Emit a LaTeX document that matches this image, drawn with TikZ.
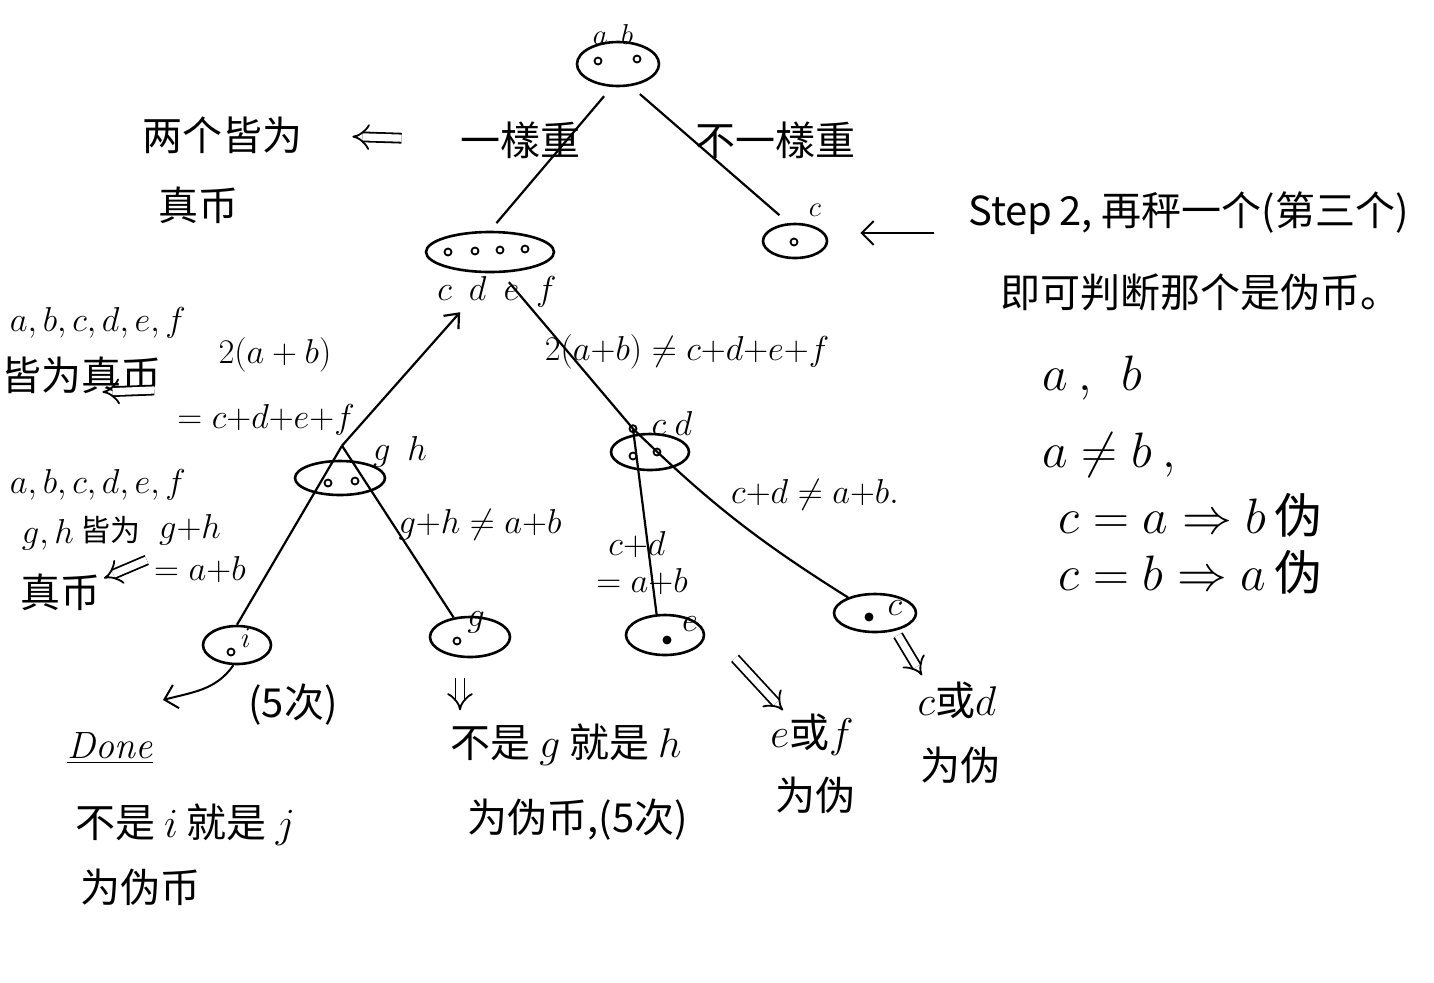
\documentclass[tikz,border=0pt]{standalone}
\usepackage{fontspec}
\setmainfont{Noto Sans CJK SC}
\newfontfamily\lmr{Latin Modern Roman}
\usetikzlibrary{shapes.geometric,arrows.meta,calc}
\begin{document}
\begin{tikzpicture}[x=0.5pt,y=-0.5pt,
 blob/.style={draw, ellipse, line width=1.3pt, inner sep=0pt},
 dotn/.style={draw, circle, line width=0.9pt, inner sep=0pt, minimum size=3.5pt},
 edge/.style={line width=1.1pt},
 dbl/.style={double, double distance=3.6pt, line width=0.9pt, -{Implies}},
 sgl/.style={line width=1pt, -{Straight Barb[length=6pt,width=12pt]}},
 cn/.style={inner sep=1pt, font=\fontsize{20}{30}\selectfont, align=left},
 big/.style={inner sep=1pt, font=\fontsize{24}{30}\selectfont},
 mid/.style={inner sep=1pt, font=\fontsize{19}{24}\selectfont},
 sml/.style={inner sep=1pt, font=\fontsize{15}{18}\selectfont},
]
\useasboundingbox (0,0) rectangle (1434,982);
\fill[white] (0,0) rectangle (1434,982);

% ---- top node a b
\node[blob, minimum width=41pt, minimum height=22pt] (ab) at (618,64) {};
\node[dotn] (ab1) at (598,61) {};
\node[dotn] (ab2) at (637,59) {};
\node[sml] (ablbl) at (613,34) {$a\ \ b$};

% ---- cdef node
\node[blob, minimum width=64pt, minimum height=20pt] (cdef) at (490,252) {};
\node[dotn] (cd1) at (448,252) {};
\node[dotn] (cd2) at (475,251) {};
\node[dotn] (cd3) at (500,250) {};
\node[dotn] (cd4) at (525,249) {};
\node[mid] (cdeflbl) at (497,292) {$c\ \ d\ \ e\ \ f$};

% ---- c node (top right)
\node[blob, minimum width=32pt, minimum height=17pt] (c1) at (795,241) {};
\node[dotn] (c1d) at (794,242) {};
\node[sml] (c1lbl) at (815,210) {$c$};

% ---- edges from top
\draw[edge, shorten <=6pt, shorten >=5pt] (ab.255) -- (cdef.north);
\draw[edge, shorten <=6pt, shorten >=6pt] (ab.300) -- (c1.110);
\node[cn] (same) at (520,140) {一樣重};
\node[cn] (diff) at (775,140) {不一樣重};

% ---- left note
\node[cn] (both) at (222,135) {两个皆为};
\node[cn] (real1) at (198,205) {真币};
\draw[dbl, shorten <=28pt, shorten >=24pt] (same.west) -- (both.east);

% ---- step 2 note
\node[cn, anchor=west] (step) at (966,213) {Step\,2,\ 再秤一个(第三个)};
\node[cn, anchor=west] (judge) at (998,292) {即可判断那个是伪币。};
\draw[sgl] ($(step.west)+(-32,20)$) -- ($(c1.east)+(32,-8)$);
\node[big, anchor=west] (f1) at (1040,378) {$a\ ,\ \ b$};
\node[big, anchor=west] (f2) at (1040,455) {$a \neq b\ ,$};
\node[big, anchor=west] (f3) at (1056,515) {$c = a \Rightarrow b$\,伪};
\node[big, anchor=west] (f4) at (1056,572) {$c = b \Rightarrow a$\,伪};

% ---- gh node
\node[blob, minimum width=45pt, minimum height=17pt] (gh) at (340,478) {};
\node[dotn] (gh1) at (328,483) {};
\node[dotn] (gh2) at (355,481) {};
\node[mid] (ghlbl) at (400,452) {$g\ \ h$};
\coordinate (ghj) at ($(gh.north)+(2,-14)$);

% ---- cd node
\node[blob, minimum width=39pt, minimum height=18pt] (cd) at (650,452) {};
\node[dotn] (cdd1) at (633,456) {};
\node[dotn] (cdd2) at (657,452) {};
\node[mid] (cdlbl) at (672,423) {$c\ d$};
\coordinate (cdj) at ($(cd.north)+(-17,-4)$);
\node[dotn] (cdjd) at (cdj) {};

% ---- leaves
\node[blob, minimum width=34pt, minimum height=19pt] (i) at (237,645) {};
\node[dotn] (id) at (231,652) {};
\node[sml] (ilbl) at (246,638) {$i$};
\node[blob, minimum width=40pt, minimum height=20pt] (g) at (470,637) {};
\node[dotn] (gd) at (457,641) {};
\node[mid] (glbl) at (476,622) {$g$};
\node[blob, minimum width=39pt, minimum height=20pt] (e) at (665,635) {};
\node[dotn, fill] (ed) at (667,640) {};
\node[mid] (elbl) at (690,624) {$e$};
\node[blob, minimum width=41pt, minimum height=19pt] (c2) at (875,613) {};
\node[dotn, fill] (c2d) at (869,617) {};
\node[mid] (c2lbl) at (895,608) {$c$};

% ---- tree edges level 2
\draw[edge, {Straight Barb[length=6pt,width=10pt]}-, shorten <=26pt] (cdef.-78) -- (ghj);
\draw[edge, shorten <=6pt] (cdef.-62) -- (cdj);
\draw[edge] (ghj) -- (i.north);
\draw[edge] (ghj) -- (g.130);
\draw[edge] (cdj) -- (e.112);
\draw[edge] (cdj) to[bend right=6] (c2.150);

% ---- edge labels
\node[mid] (eq1) at (275,355) {$2(a+b)$};
\node[mid] (eq2) at (266,420) {$=c{+}d{+}e{+}f$};
\node[mid] (neq1) at (687,352) {$2(a{+}b) \neq c{+}d{+}e{+}f$};
\node[mid] (ghne) at (480,525) {$g{+}h \neq a{+}b$};
\node[mid] (cdeq1) at (637,545) {$c{+}d$};
\node[mid] (cdeq2) at (642,582) {$=a{+}b$};
\node[mid] (cdne) at (815,495) {$c{+}d \neq a{+}b.$};

% ---- left notes
\node[mid] (all1) at (98,323) {$a,b,c,d,e,f$};
\node[cn] (all1b) at (82,375) {皆为真币};
\draw[dbl] ($(eq1.west)+(-62,35)$) -- ($(all1b.east)+(-62,17)$);

\node[mid] (all2) at (98,485) {$a,b,c,d,e,f$};
\node[mid] (all2g) at (48,535) {$g,h$};
\node[cn, font=\fontsize{15}{18}\selectfont] (all2h) at (110,530) {皆为};
\node[cn] (real2) at (60,592) {真币};
\node[mid] (gh1t) at (190,530) {$g{+}h$};
\node[mid] (gh2t) at (200,570) {$=a{+}b$};
\draw[dbl] ($(gh1t.west)+(-10,30)$) -- ($(all2h.south)+(-6,32)$);

% ---- bottom results
\coordinate (iend) at (163,700);
\draw[sgl] (i.260) to[out=-125,in=15] (iend);
\node[cn] (five1) at (293,705) {(5次)};
\node[mid] (done) at (110,748) {\underline{\lmr\itshape Done}};
\node[cn] (noti) at (185,825) {不是 $i$ 就是 $j$};
\node[cn] (noti2) at (140,887) {为伪币};

\node[cn] (notg) at (566,745) {不是 $g$ 就是 $h$};
\node[cn] (notg2) at (578,820) {为伪币,(5次)};
\draw[dbl] ($(g.south)+(-10,20)$) -- ($(g.south)+(-10,52)$);

\node[cn] (ef) at (812,735) {$e$或$f$};
\node[cn] (ef2) at (815,795) {为伪};
\draw[dbl] ($(e.south)+(70,2)$) -- ($(e.south)+(118,54)$);

\node[cn] (cdor) at (957,700) {$c$或$d$};
\node[cn] (cdor2) at (960,765) {为伪};
\draw[dbl] ($(c2.south)+(23,2)$) -- ($(c2.south)+(47,42)$);
\end{tikzpicture}
\end{document}
